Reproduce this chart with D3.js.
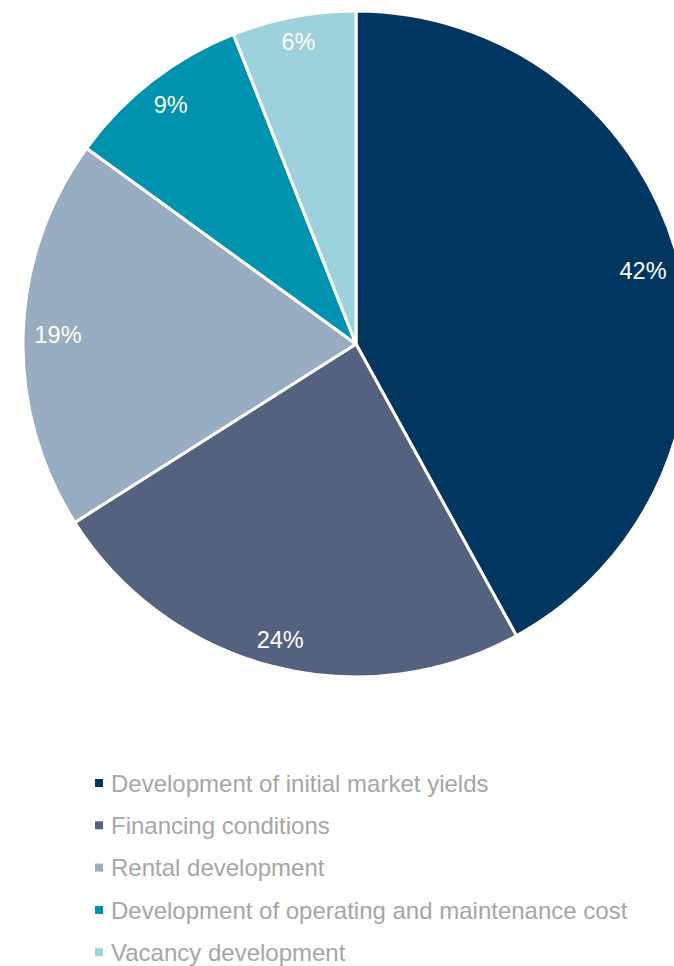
<!DOCTYPE html>
<html>
<head>
<meta charset="utf-8">
<script src="https://cdn.jsdelivr.net/npm/d3@7"></script>
<style>
  html, body { margin: 0; padding: 0; background: #fff; overflow: hidden; }
  svg { display: block; }
</style>
</head>
<body>
<svg id="chart" width="674" height="966"></svg>
<script>
// Drivers of value change, share in percent
const categories = [
  "Development of initial market yields",
  "Financing conditions",
  "Rental development",
  "Development of operating and maintenance cost",
  "Vacancy development"
];
const values = [42, 24, 19, 9, 6];
const colors = ["#00365F", "#54627F", "#98ADC1", "#0093B0", "#9DD2DC"];

const svg = d3.select("#chart");
const cx = 356, cy = 344, radius = 333;
const font = "'Liberation Sans', Arial, sans-serif";

const pie = d3.pie().sort(null).value(d => d.value);
const data = pie(categories.map((c, i) => ({ name: c, value: values[i], color: colors[i] })));

const arc = d3.arc().innerRadius(0).outerRadius(radius);

const g = svg.append("g").attr("transform", `translate(${cx},${cy})`);

g.selectAll("path.slice")
  .data(data)
  .join("path")
  .attr("class", "slice")
  .attr("d", arc)
  .attr("fill", d => d.data.color)
  .attr("stroke", "#fff")
  .attr("stroke-width", 3)
  .attr("stroke-linejoin", "round");

// Percentage labels placed at the inside end of each slice:
// the label box sits just inside the rim along the slice's mid angle.
const pad = 11;
g.selectAll("text.pct")
  .data(data)
  .join("text")
  .attr("class", "pct")
  .attr("text-anchor", "middle")
  .attr("dy", "0.36em")
  .attr("font-family", font)
  .attr("font-size", 23.5)
  .attr("fill", "#fff")
  .text(d => d.data.value + "%")
  .each(function(d) {
    const bb = this.getBBox();
    const hw = bb.width / 2, hh = 11.5;
    const a = (d.startAngle + d.endAngle) / 2;
    const s = Math.sin(a), c = Math.cos(a);
    const dist = radius - pad - (Math.abs(s) * hw + Math.abs(c) * hh);
    d3.select(this).attr("transform", `translate(${dist * s},${-dist * c})`);
  });

// Legend
const legend = svg.append("g").attr("transform", "translate(95,783)");
const rowGap = 42.3;
const rows = legend.selectAll("g.row")
  .data(categories)
  .join("g")
  .attr("class", "row")
  .attr("transform", (d, i) => `translate(0,${i * rowGap})`);

rows.append("rect")
  .attr("x", 0).attr("y", -4)
  .attr("width", 8).attr("height", 8)
  .attr("fill", (d, i) => colors[i]);

rows.append("text")
  .attr("x", 16)
  .attr("dy", "0.36em")
  .attr("font-family", font)
  .attr("font-size", 24)
  .attr("fill", "#A6A6A6")
  .text(d => d);
</script>
</body>
</html>
